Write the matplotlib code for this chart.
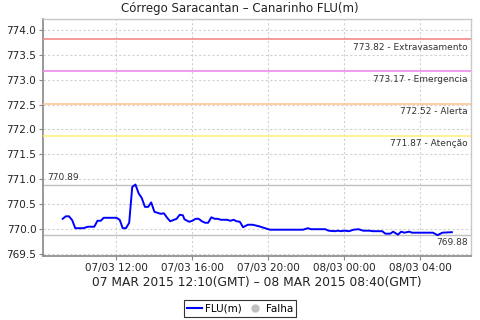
import matplotlib
matplotlib.use("Agg")
import matplotlib.pyplot as plt
import matplotlib.dates as mdates
from matplotlib.lines import Line2D
from datetime import datetime, timedelta

plt.rcParams['font.family'] = ['DejaVu Sans']

title = "Córrego Saracantan – Canarinho FLU(m)"
xlabel = "07 MAR 2015 12:10(GMT) – 08 MAR 2015 08:40(GMT)"

# times as hours since 07/03 00:00 (local)
times_h = [9.17, 9.33, 9.5, 9.67, 9.83, 10.25, 10.5, 10.83, 11.0, 11.17, 11.33,
           12.0, 12.17, 12.33, 12.5, 12.67, 12.83, 13.0, 13.17, 13.33, 13.5, 13.67,
           13.83, 14.0, 14.17, 14.33, 14.5, 14.67, 14.83, 15.17, 15.33, 15.5, 15.58,
           15.83, 16.0, 16.17, 16.33, 16.5, 16.67, 16.83, 17.0, 17.17, 17.33, 17.5,
           17.83, 18.0, 18.17, 18.33, 18.5, 18.67, 18.92, 19.17, 19.5, 19.83, 20.08,
           21.83, 22.08, 22.25, 23.0, 23.17, 23.5, 23.67, 23.83, 24.0, 24.25, 24.5,
           24.75, 25.0, 25.33, 25.5, 26.0, 26.17, 26.42, 26.58, 26.83, 27.0, 27.17,
           27.42, 27.58, 28.67, 28.92, 29.17, 29.67]
flu = [770.20, 770.25, 770.25, 770.17, 770.01, 770.01, 770.04, 770.04, 770.16, 770.16, 770.22,
       770.22, 770.18, 770.01, 770.01, 770.12, 770.84, 770.89, 770.71, 770.62, 770.44, 770.44,
       770.53, 770.34, 770.32, 770.30, 770.31, 770.22, 770.15, 770.20, 770.28, 770.27, 770.19,
       770.14, 770.16, 770.20, 770.20, 770.15, 770.12, 770.12, 770.23, 770.20, 770.20, 770.18,
       770.18, 770.16, 770.18, 770.15, 770.14, 770.03, 770.08, 770.08, 770.05, 770.01, 769.98,
       769.98, 770.01, 769.99, 769.99, 769.96, 769.95, 769.96, 769.95, 769.96, 769.95, 769.98,
       769.99, 769.96, 769.96, 769.95, 769.95, 769.90, 769.90, 769.94, 769.88, 769.94, 769.92,
       769.94, 769.92, 769.92, 769.87, 769.92, 769.93]

threshold_values = [773.82, 773.17, 772.52, 771.87]
threshold_names = ["Extravasamento", "Emergencia", "Alerta", "Atenção"]
threshold_colors = ["#f48a8a", "#ee8cee", "#ffc890", "#fff080"]

max_val = 770.89
min_val = 769.88

yticks = [769.5, 770.0, 770.5, 771.0, 771.5, 772.0, 772.5, 773.0, 773.5, 774.0]
xtick_hours = [12, 16, 20, 24, 28]

base = datetime(2015, 3, 7)
t = [base + timedelta(hours=h) for h in times_h]

fig = plt.figure(figsize=(4.8, 3.2), dpi=100)
ax = fig.add_axes([43.3 / 480, 1 - 256 / 320, (471.3 - 43.3) / 480, (256 - 19.3) / 320])

ax.plot(t, flu, color="#0000ff", lw=1.4, zorder=5)

for v, n, c in zip(threshold_values, threshold_names, threshold_colors):
    ax.axhline(v, color=c, lw=1.2, zorder=3)
    ax.text(0.992, v - 0.07, f"{v:.2f} - {n}", transform=ax.get_yaxis_transform(),
            ha="right", va="top", fontsize=6.5, color="#333333")

ax.axhline(max_val, color="#c0c0c0", lw=1.0, zorder=2)
ax.axhline(min_val, color="#c0c0c0", lw=1.0, zorder=2)
ax.text(0.008, max_val + 0.06, f"{max_val:.2f}", transform=ax.get_yaxis_transform(),
        ha="left", va="bottom", fontsize=6.5, color="#333333")
ax.text(0.992, min_val - 0.07, f"{min_val:.2f}", transform=ax.get_yaxis_transform(),
        ha="right", va="top", fontsize=6.5, color="#333333")

tmin, tmax = t[0], t[-1]
span = tmax - tmin
ax.set_xlim(tmin - span * 0.05, tmax + span * 0.05)
ax.set_ylim(769.45, 774.22)
ax.set_yticks(yticks)
ax.set_yticklabels([f"{v:.1f}" for v in yticks])
ax.set_xticks([base + timedelta(hours=h) for h in xtick_hours])
ax.xaxis.set_major_formatter(mdates.DateFormatter("%d/%m %H:%M"))

ax.grid(True, color="#d0d0d0", ls=(0, (2, 2)), lw=0.8)
ax.tick_params(labelsize=7.5, length=3, color="#888888", labelcolor="#222222", pad=2)
for s in ["left", "bottom"]:
    ax.spines[s].set_color("#888888")
    ax.spines[s].set_linewidth(1.2)
for s in ["top", "right"]:
    ax.spines[s].set_color("#c8c8c8")
    ax.spines[s].set_linewidth(1.0)

ax.set_xlabel(xlabel, fontsize=8.8, labelpad=2, color="#222222")
fig.text(0.5, 1 - 8.5 / 320, title, ha="center", va="center", fontsize=8.5, color="#222222")

handles = [Line2D([0], [0], color="#0000ff", lw=1.5),
           Line2D([0], [0], marker="o", color="#c0c0c0", ls="none", markersize=5)]
leg = fig.legend(handles, ["FLU(m)", "Falha"], loc="center", bbox_to_anchor=(0.5, 1 - 308.5 / 320),
                 ncol=2, fontsize=7.5, frameon=True, fancybox=False, handlelength=1.5,
                 handletextpad=0.3, columnspacing=0.5, borderpad=0.3, borderaxespad=0)
leg.get_frame().set_edgecolor("black")
leg.get_frame().set_linewidth(0.8)

fig.savefig("out.png", dpi=100)
